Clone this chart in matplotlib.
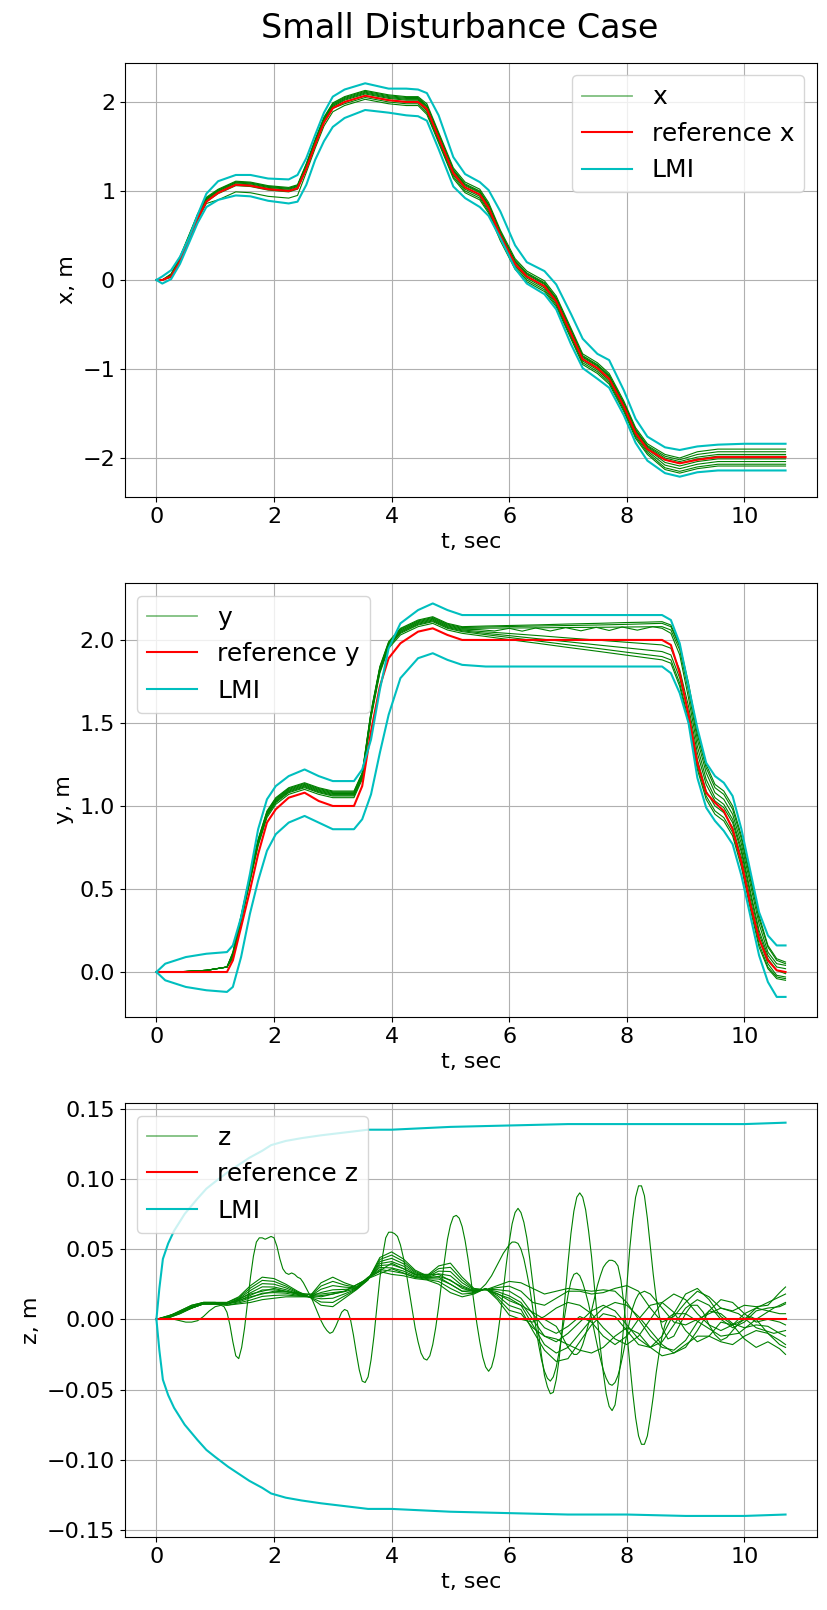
import numpy as np
import matplotlib
import matplotlib.pyplot as plt
from matplotlib.lines import Line2D

matplotlib.use('Agg')
plt.rcParams['font.family'] = ['DejaVu Sans']
plt.rcParams['font.size'] = 16

# ---------------- x channel ----------------
t_x = [0, 0.1, 0.25, 0.4, 0.55, 0.7, 0.85, 1.05, 1.35, 1.6, 1.9, 2.25, 2.4, 2.55, 2.7, 2.85,
       3.0, 3.2, 3.55, 3.95, 4.25, 4.45, 4.6, 4.8, 5.05, 5.25, 5.5, 5.65, 5.85, 6.1, 6.3, 6.6,
       6.8, 7.05, 7.25, 7.5, 7.7, 7.95, 8.15, 8.35, 8.65, 8.9, 9.2, 9.55, 10.0, 10.7]
ref_x = [0, 0.0, 0.04, 0.21, 0.45, 0.69, 0.88, 0.98, 1.07, 1.06, 1.02, 1.0, 1.03, 1.25, 1.52, 1.77,
         1.93, 2.0, 2.07, 2.02, 2.0, 2.0, 1.92, 1.6, 1.2, 1.04, 0.96, 0.81, 0.5, 0.18, 0.04, -0.07,
         -0.24, -0.6, -0.89, -0.99, -1.11, -1.42, -1.72, -1.9, -2.02, -2.06, -2.02, -1.99, -1.99, -1.99]
lmi_x_up = [0, 0.04, 0.11, 0.26, 0.47, 0.73, 0.97, 1.11, 1.18, 1.18, 1.14, 1.13, 1.18, 1.37, 1.63, 1.88,
            2.06, 2.14, 2.21, 2.15, 2.15, 2.14, 2.10, 1.85, 1.38, 1.19, 1.10, 1.01, 0.77, 0.39, 0.20, 0.10,
            -0.05, -0.38, -0.66, -0.83, -0.90, -1.24, -1.56, -1.76, -1.88, -1.91, -1.87, -1.85, -1.84, -1.84]
lmi_x_lo = [0, -0.04, 0.01, 0.18, 0.41, 0.64, 0.82, 0.90, 0.95, 0.94, 0.89, 0.86, 0.88, 1.07, 1.35, 1.56,
            1.72, 1.82, 1.91, 1.88, 1.85, 1.84, 1.79, 1.47, 1.05, 0.92, 0.82, 0.72, 0.47, 0.13, -0.04, -0.16,
            -0.33, -0.72, -0.99, -1.11, -1.21, -1.52, -1.83, -2.03, -2.17, -2.21, -2.16, -2.14, -2.14, -2.14]
x_runs = [
    [0, 0.0, 0.07, 0.26, 0.50, 0.74, 0.93, 1.02, 1.11, 1.10, 1.06, 1.04, 1.07, 1.31, 1.58, 1.83,
     1.99, 2.06, 2.13, 2.08, 2.06, 2.06, 1.98, 1.66, 1.26, 1.10, 1.02, 0.87, 0.56, 0.24, 0.10, -0.01,
     -0.18, -0.54, -0.83, -0.93, -1.05, -1.36, -1.66, -1.84, -1.96, -2.00, -1.93, -1.90, -1.90, -1.90],
    [0, 0.0, 0.06, 0.25, 0.49, 0.73, 0.92, 1.01, 1.10, 1.09, 1.05, 1.03, 1.06, 1.30, 1.57, 1.82,
     1.98, 2.05, 2.12, 2.07, 2.05, 2.05, 1.96, 1.64, 1.24, 1.08, 1.00, 0.85, 0.54, 0.22, 0.08, -0.03,
     -0.20, -0.56, -0.85, -0.95, -1.07, -1.38, -1.68, -1.86, -1.98, -2.02, -1.96, -1.93, -1.93, -1.93],
    [0, 0.0, 0.06, 0.24, 0.48, 0.72, 0.91, 1.01, 1.10, 1.09, 1.05, 1.03, 1.06, 1.29, 1.56, 1.81,
     1.97, 2.04, 2.11, 2.06, 2.04, 2.04, 1.95, 1.63, 1.23, 1.07, 0.99, 0.84, 0.53, 0.21, 0.07, -0.04,
     -0.21, -0.57, -0.86, -0.96, -1.08, -1.39, -1.69, -1.87, -2.00, -2.04, -1.99, -1.96, -1.96, -1.96],
    [0, 0.0, 0.05, 0.24, 0.48, 0.72, 0.91, 1.00, 1.09, 1.08, 1.04, 1.02, 1.05, 1.28, 1.55, 1.80,
     1.96, 2.03, 2.10, 2.05, 2.03, 2.03, 1.94, 1.62, 1.22, 1.06, 0.98, 0.83, 0.52, 0.20, 0.06, -0.05,
     -0.22, -0.58, -0.87, -0.97, -1.09, -1.40, -1.70, -1.88, -2.02, -2.06, -2.01, -1.98, -1.98, -1.98],
    [0, 0.0, 0.05, 0.23, 0.47, 0.71, 0.90, 0.99, 1.08, 1.07, 1.03, 1.01, 1.04, 1.27, 1.54, 1.79,
     1.95, 2.02, 2.09, 2.04, 2.02, 2.02, 1.92, 1.60, 1.20, 1.04, 0.96, 0.81, 0.50, 0.18, 0.04, -0.07,
     -0.24, -0.60, -0.89, -0.99, -1.11, -1.42, -1.72, -1.90, -2.05, -2.09, -2.04, -2.01, -2.01, -2.01],
    [0, 0.0, 0.04, 0.22, 0.46, 0.70, 0.89, 0.98, 1.07, 1.06, 1.02, 1.00, 1.03, 1.26, 1.53, 1.78,
     1.94, 2.00, 2.07, 2.02, 2.00, 2.00, 1.90, 1.58, 1.18, 1.02, 0.94, 0.79, 0.48, 0.16, 0.02, -0.09,
     -0.26, -0.62, -0.91, -1.01, -1.13, -1.44, -1.74, -1.92, -2.08, -2.12, -2.07, -2.04, -2.04, -2.04],
    [0, 0.0, 0.04, 0.21, 0.45, 0.69, 0.88, 0.97, 1.06, 1.05, 1.01, 0.99, 1.02, 1.25, 1.52, 1.77,
     1.93, 1.98, 2.05, 2.00, 1.98, 1.98, 1.88, 1.56, 1.16, 1.00, 0.92, 0.77, 0.46, 0.14, 0.00, -0.11,
     -0.28, -0.64, -0.93, -1.03, -1.15, -1.46, -1.76, -1.94, -2.11, -2.15, -2.10, -2.07, -2.07, -2.07],
    [0, 0.0, 0.03, 0.19, 0.43, 0.67, 0.86, 0.90, 0.99, 0.98, 0.94, 0.92, 0.95, 1.21, 1.48, 1.73,
     1.89, 1.96, 2.03, 1.98, 1.96, 1.96, 1.86, 1.54, 1.14, 0.98, 0.90, 0.75, 0.44, 0.12, -0.02, -0.13,
     -0.30, -0.66, -0.95, -1.05, -1.17, -1.48, -1.78, -1.96, -2.13, -2.17, -2.12, -2.09, -2.09, -2.09],
]

# ---------------- y channel ----------------
t_y = [0, 0.15, 0.5, 0.85, 1.2, 1.3, 1.44, 1.59, 1.73, 1.88, 2.03, 2.25, 2.52, 2.76, 3.0, 3.36,
       3.5, 3.65, 3.8, 3.95, 4.15, 4.45, 4.7, 4.95, 5.2, 5.6, 6.0, 6.5, 7.0, 7.5, 8.0, 8.3,
       8.6, 8.75, 8.9, 9.05, 9.2, 9.35, 9.5, 9.65, 9.8, 9.95, 10.1, 10.25, 10.4, 10.55, 10.7]
ref_y = [0, 0, 0, 0, 0, 0.07, 0.27, 0.49, 0.71, 0.9, 0.98, 1.05, 1.08, 1.03, 1.0, 1.0,
         1.12, 1.45, 1.72, 1.89, 1.98, 2.05, 2.07, 2.03, 2.0, 2.0, 2.0, 2.0, 2.0, 2.0, 2.0, 2.0,
         2.0, 1.97, 1.8, 1.55, 1.26, 1.08, 1.02, 0.97, 0.86, 0.66, 0.41, 0.2, 0.07, 0.01, 0.0]
lmi_y_up = [0, 0.05, 0.09, 0.11, 0.12, 0.16, 0.33, 0.59, 0.86, 1.04, 1.12, 1.18, 1.22, 1.18, 1.15, 1.15,
            1.22, 1.4, 1.7, 1.95, 2.1, 2.18, 2.22, 2.18, 2.15, 2.15, 2.15, 2.15, 2.15, 2.15, 2.15, 2.15,
            2.15, 2.12, 1.98, 1.72, 1.47, 1.26, 1.18, 1.14, 1.06, 0.86, 0.61, 0.36, 0.22, 0.16, 0.16]
lmi_y_lo = [0, -0.05, -0.09, -0.11, -0.12, -0.09, 0.09, 0.35, 0.55, 0.73, 0.83, 0.9, 0.94, 0.9, 0.86, 0.86,
            0.92, 1.07, 1.32, 1.55, 1.77, 1.89, 1.92, 1.88, 1.85, 1.84, 1.84, 1.84, 1.84, 1.84, 1.84, 1.84,
            1.84, 1.8, 1.68, 1.5, 1.17, 0.99, 0.91, 0.85, 0.77, 0.58, 0.34, 0.1, -0.06, -0.15, -0.15]
y_runs = [
    [0, 0, 0.003, 0.01, 0.03, 0.12, 0.34, 0.58, 0.80, 0.97, 1.05, 1.11, 1.14, 1.11, 1.09, 1.09,
     1.20, 1.57, 1.84, 1.99, 2.07, 2.12, 2.14, 2.10, 2.08, 2.084, 2.087, 2.091, 2.096, 2.10, 2.105, 2.107,
     2.11, 2.09, 1.97, 1.74, 1.45, 1.25, 1.13, 1.09, 1.00, 0.82, 0.58, 0.34, 0.16, 0.08, 0.06],
    [0, 0, 0.003, 0.01, 0.03, 0.115, 0.335, 0.575, 0.795, 0.965, 1.045, 1.105, 1.135, 1.105, 1.085, 1.085,
     1.195, 1.565, 1.835, 1.985, 2.065, 2.115, 2.135, 2.095, 2.075, 2.078, 2.081, 2.084, 2.087, 2.09, 2.094, 2.097,
     2.10, 2.08, 1.96, 1.72, 1.43, 1.23, 1.11, 1.07, 0.98, 0.80, 0.56, 0.32, 0.15, 0.07, 0.05],
    [0, 0, 0.003, 0.01, 0.03, 0.11, 0.33, 0.57, 0.79, 0.96, 1.04, 1.10, 1.13, 1.10, 1.08, 1.08,
     1.19, 1.56, 1.83, 1.98, 2.06, 2.11, 2.13, 2.09, 2.07, 2.071, 2.072, 2.073, 2.075, 2.076, 2.078, 2.079,
     2.08, 2.06, 1.94, 1.69, 1.40, 1.20, 1.08, 1.04, 0.95, 0.77, 0.53, 0.29, 0.12, 0.05, 0.04],
    [0, 0, 0.003, 0.01, 0.03, 0.10, 0.32, 0.56, 0.78, 0.95, 1.03, 1.09, 1.12, 1.09, 1.07, 1.07,
     1.18, 1.55, 1.82, 1.97, 2.05, 2.10, 2.12, 2.08, 2.06, 2.049, 2.039, 2.026, 2.012, 1.999, 1.986, 1.978,
     1.97, 1.95, 1.82, 1.60, 1.32, 1.13, 1.03, 0.99, 0.90, 0.72, 0.47, 0.23, 0.08, 0.01, -0.01],
    [0, 0, 0.003, 0.01, 0.03, 0.095, 0.315, 0.555, 0.775, 0.945, 1.025, 1.085, 1.115, 1.085, 1.065, 1.065,
     1.175, 1.545, 1.815, 1.965, 2.045, 2.095, 2.115, 2.075, 2.055, 2.04, 2.026, 2.007, 1.989, 1.97, 1.952, 1.941,
     1.93, 1.91, 1.77, 1.56, 1.28, 1.09, 1.00, 0.96, 0.87, 0.69, 0.44, 0.20, 0.05, -0.02, -0.03],
    [0, 0, 0.003, 0.01, 0.03, 0.09, 0.31, 0.55, 0.77, 0.94, 1.02, 1.08, 1.11, 1.08, 1.06, 1.06,
     1.17, 1.54, 1.81, 1.96, 2.04, 2.09, 2.11, 2.07, 2.05, 2.032, 2.015, 1.993, 1.971, 1.949, 1.926, 1.913,
     1.90, 1.88, 1.74, 1.52, 1.24, 1.06, 0.97, 0.93, 0.84, 0.65, 0.40, 0.17, 0.03, -0.03, -0.04],
    [0, 0, 0.003, 0.01, 0.03, 0.08, 0.30, 0.54, 0.76, 0.93, 1.01, 1.07, 1.10, 1.07, 1.05, 1.05,
     1.16, 1.53, 1.80, 1.95, 2.03, 2.08, 2.10, 2.06, 2.04, 2.021, 2.002, 1.979, 1.955, 1.932, 1.908, 1.894,
     1.88, 1.86, 1.72, 1.50, 1.22, 1.04, 0.95, 0.91, 0.82, 0.63, 0.38, 0.15, 0.02, -0.04, -0.05],
]
# the run with the small ripple on the plateau, (t, y) pairs
y_ripple = [
    (0, 0), (0.15, 0), (0.5, 0.003), (0.85, 0.01), (1.2, 0.03), (1.3, 0.105), (1.44, 0.325), (1.59, 0.565),
    (1.73, 0.785), (1.88, 0.955), (2.03, 1.035), (2.25, 1.095), (2.52, 1.125), (2.76, 1.095), (3.0, 1.075),
    (3.36, 1.075), (3.5, 1.185), (3.65, 1.555), (3.8, 1.825), (3.95, 1.975), (4.15, 2.055), (4.45, 2.105),
    (4.7, 2.125), (4.95, 2.085), (5.2, 2.065), (5.5, 2.062), (5.75, 2.054), (6.0, 2.07), (6.22, 2.053),
    (6.45, 2.072), (6.7, 2.054), (6.96, 2.074), (7.22, 2.055), (7.48, 2.076), (7.7, 2.057), (7.92, 2.078),
    (8.18, 2.059), (8.44, 2.08), (8.6, 2.07), (8.75, 2.04), (8.9, 1.91), (9.05, 1.65), (9.2, 1.36),
    (9.35, 1.16), (9.5, 1.05), (9.65, 1.01), (9.8, 0.92), (9.95, 0.74), (10.1, 0.49), (10.25, 0.25),
    (10.4, 0.10), (10.55, 0.03), (10.7, 0.02),
]

# ---------------- z channel ----------------
t_z_lmi = [0, 0.05, 0.11, 0.2, 0.3, 0.48, 0.7, 0.85, 1.0, 1.22, 1.4, 1.58, 1.8, 1.95, 2.2, 2.47,
           2.8, 3.2, 3.6, 4.0, 4.5, 5.0, 6.0, 7.0, 8.0, 9.0, 10.0, 10.7]
lmi_z_up = [0, 0.022, 0.043, 0.054, 0.063, 0.075, 0.086, 0.093, 0.098, 0.105, 0.11, 0.115, 0.12, 0.124,
            0.127, 0.129, 0.131, 0.133, 0.135, 0.135, 0.136, 0.137, 0.138, 0.139, 0.139, 0.139, 0.139, 0.14]
lmi_z_lo = [0, -0.022, -0.043, -0.054, -0.063, -0.075, -0.086, -0.093, -0.098, -0.105, -0.11, -0.115, -0.12,
            -0.124, -0.127, -0.129, -0.131, -0.133, -0.135, -0.135, -0.136, -0.137, -0.138, -0.139, -0.139,
            -0.14, -0.14, -0.139]
t_z_ref = [0, 10.7]
ref_z = [0, 0]

# strongly oscillating run, (t, z) pairs
osc_a = [
    (0, 0), (0.1, 0), (0.2, 0), (0.3, 0), (0.4, -0.001), (0.5, -0.002), (0.6, -0.002), (0.7, -0.001),
    (0.8, 0.002), (0.9, 0.006), (1.0, 0.009), (1.1, 0.010), (1.15, 0.009), (1.2, 0.005), (1.25, -0.004),
    (1.3, -0.016), (1.35, -0.026), (1.4, -0.028), (1.45, -0.020), (1.5, -0.006), (1.55, 0.012), (1.6, 0.030),
    (1.65, 0.045), (1.7, 0.055), (1.75, 0.058), (1.8, 0.058), (1.85, 0.057), (1.9, 0.058), (1.95, 0.059),
    (2.0, 0.058), (2.05, 0.052), (2.1, 0.043), (2.15, 0.036), (2.2, 0.033), (2.25, 0.032), (2.3, 0.033),
    (2.35, 0.032), (2.4, 0.030), (2.45, 0.029), (2.5, 0.026), (2.55, 0.022), (2.6, 0.018), (2.65, 0.014),
    (2.7, 0.009), (2.75, 0.004), (2.8, -0.001), (2.85, -0.005), (2.9, -0.008), (2.95, -0.010), (3.0, -0.009),
    (3.05, -0.005), (3.1, 0.0), (3.15, 0.005), (3.2, 0.007), (3.25, 0.006), (3.3, 0.0), (3.35, -0.011),
    (3.4, -0.024), (3.45, -0.036), (3.5, -0.044), (3.55, -0.045), (3.6, -0.041), (3.65, -0.029),
    (3.7, -0.012), (3.75, 0.009), (3.8, 0.029), (3.85, 0.046), (3.9, 0.058), (3.95, 0.062), (4.0, 0.062),
    (4.05, 0.061), (4.1, 0.059), (4.15, 0.053), (4.2, 0.044), (4.25, 0.033), (4.3, 0.020), (4.35, 0.007),
    (4.4, -0.006), (4.45, -0.016), (4.5, -0.024), (4.55, -0.028), (4.6, -0.029), (4.65, -0.026),
    (4.7, -0.018), (4.75, -0.006), (4.8, 0.009), (4.85, 0.026), (4.9, 0.042), (4.95, 0.057), (5.0, 0.067),
    (5.05, 0.073), (5.1, 0.074), (5.15, 0.072), (5.2, 0.066), (5.25, 0.056), (5.3, 0.043), (5.35, 0.028),
    (5.4, 0.012), (5.45, -0.003), (5.5, -0.016), (5.55, -0.027), (5.6, -0.034), (5.65, -0.037),
    (5.7, -0.034), (5.75, -0.026), (5.8, -0.013), (5.85, 0.003), (5.9, 0.021), (5.95, 0.039), (6.0, 0.055),
    (6.05, 0.068), (6.1, 0.076), (6.15, 0.079), (6.2, 0.076), (6.25, 0.069), (6.3, 0.058), (6.35, 0.043),
    (6.4, 0.026), (6.45, 0.008), (6.5, -0.010), (6.55, -0.026), (6.6, -0.040), (6.65, -0.048),
    (6.7, -0.053), (6.75, -0.052), (6.8, -0.043), (6.85, -0.028), (6.9, -0.007), (6.95, 0.016),
    (7.0, 0.040), (7.05, 0.061), (7.1, 0.077), (7.15, 0.087), (7.2, 0.090), (7.25, 0.087), (7.3, 0.078),
    (7.35, 0.063), (7.4, 0.045), (7.45, 0.023), (7.5, 0.001), (7.55, -0.020), (7.6, -0.038), (7.65, -0.053),
    (7.7, -0.062), (7.75, -0.065), (7.8, -0.061), (7.85, -0.047), (7.9, -0.028), (7.95, -0.003),
    (8.0, 0.024), (8.05, 0.050), (8.1, 0.071), (8.15, 0.087), (8.2, 0.095), (8.25, 0.095), (8.3, 0.088),
    (8.35, 0.072), (8.4, 0.052), (8.45, 0.032), (8.5, 0.015), (8.55, 0.003), (8.6, -0.006), (8.7, -0.014),
    (8.8, -0.012), (8.9, -0.004), (9.0, 0.004), (9.1, 0.01), (9.2, 0.01), (9.3, 0.005), (9.4, -0.004),
    (9.5, -0.011), (9.6, -0.015), (9.7, -0.013), (9.8, -0.008), (9.9, -0.003), (10.0, 0.0), (10.1, 0.002),
    (10.2, 0.0), (10.3, -0.005), (10.4, -0.01), (10.5, -0.014), (10.6, -0.018), (10.7, -0.02),
]

# second oscillating run
osc_b = [
    (0, 0), (0.4, 0.005), (0.8, 0.011), (1.2, 0.011), (1.6, 0.018), (2.0, 0.022), (2.4, 0.018), (2.8, 0.018),
    (3.2, 0.02), (3.6, 0.029), (4.0, 0.04), (4.4, 0.032), (4.8, 0.032), (5.2, 0.023), (5.4, 0.02),
    (5.5, 0.021), (5.6, 0.025), (5.7, 0.031), (5.8, 0.039), (5.85, 0.043), (5.9, 0.047), (5.95, 0.05),
    (6.0, 0.053), (6.05, 0.055), (6.1, 0.055), (6.15, 0.054), (6.2, 0.05), (6.25, 0.043), (6.3, 0.033),
    (6.35, 0.022), (6.4, 0.008), (6.45, -0.005), (6.5, -0.018), (6.55, -0.029), (6.6, -0.037),
    (6.65, -0.042), (6.7, -0.044), (6.75, -0.041), (6.8, -0.034), (6.85, -0.023), (6.9, -0.01),
    (6.95, 0.004), (7.0, 0.017), (7.05, 0.027), (7.1, 0.032), (7.15, 0.033), (7.2, 0.031), (7.25, 0.026),
    (7.3, 0.019), (7.35, 0.011), (7.4, 0.001), (7.45, -0.009), (7.5, -0.019), (7.55, -0.028), (7.6, -0.036),
    (7.65, -0.042), (7.7, -0.046), (7.75, -0.047), (7.8, -0.045), (7.85, -0.04), (7.9, -0.032),
    (7.95, -0.022), (8.0, -0.011), (8.05, -0.001), (8.1, 0.008), (8.15, 0.014), (8.2, 0.018), (8.3, 0.02),
    (8.4, 0.018), (8.6, 0.008), (8.8, -0.002), (9.0, -0.004), (9.3, 0.002), (9.6, 0.008), (9.9, 0.004),
    (10.2, -0.006), (10.5, -0.01), (10.7, -0.008),
]

# run swinging opposite to the main one near the end
osc_c = [
    (0, 0), (0.4, 0.005), (0.8, 0.011), (1.2, 0.011), (1.6, 0.016), (2.0, 0.02), (2.4, 0.019), (2.8, 0.016),
    (3.2, 0.02), (3.6, 0.029), (4.0, 0.036), (4.4, 0.03), (4.8, 0.03), (5.2, 0.02), (5.6, 0.021), (6.0, 0.015),
    (6.4, 0.005), (6.8, -0.005), (6.9, -0.012), (7.0, -0.02), (7.1, -0.025), (7.15, -0.025), (7.2, -0.023),
    (7.25, -0.018), (7.3, -0.011), (7.35, -0.003), (7.4, 0.006), (7.45, 0.015), (7.5, 0.024), (7.55, 0.031),
    (7.6, 0.037), (7.65, 0.04), (7.7, 0.042), (7.75, 0.042), (7.8, 0.041), (7.85, 0.038), (7.9, 0.028),
    (7.95, 0.011), (8.0, -0.009), (8.05, -0.031), (8.1, -0.052), (8.15, -0.07), (8.2, -0.083),
    (8.25, -0.089), (8.3, -0.089), (8.35, -0.083), (8.4, -0.07), (8.45, -0.055), (8.5, -0.038),
    (8.55, -0.024), (8.6, -0.012), (8.65, -0.004), (8.7, 0.001), (8.8, 0.004), (9.0, 0.004), (9.3, -0.004),
    (9.6, -0.012), (9.9, -0.01), (10.2, 0.0), (10.5, 0.008), (10.7, 0.012),
]

# the smoother bundle, sampled every 0.2 s plus the last point at 10.7 s
z_bundle = [
    [0, 0.002, 0.006, 0.010, 0.012, 0.012, 0.012, 0.016, 0.024, 0.030, 0.029, 0.025, 0.020, 0.016, 0.010,
     0.009, 0.015, 0.021, 0.028, 0.044, 0.048, 0.043, 0.035, 0.031, 0.038, 0.040, 0.030, 0.022, 0.021,
     0.024, 0.027, 0.026, 0.022, 0.018, 0.020, 0.022, 0.021, 0.020, 0.021, 0.020, 0.012, 0.0, -0.012,
     -0.020, -0.022, -0.015, -0.002, 0.006, 0.004, -0.003, -0.006, -0.004, -0.005, -0.010, -0.012],
    [0, 0.002, 0.006, 0.010, 0.012, 0.012, 0.012, 0.0153, 0.0223, 0.0277, 0.027, 0.0237, 0.0194, 0.016,
     0.0123, 0.012, 0.0166, 0.0213, 0.0283, 0.0426, 0.0457, 0.0413, 0.0341, 0.0306, 0.0361, 0.037, 0.028,
     0.0214, 0.0211, 0.0226, 0.0236, 0.020, 0.012, 0.010, 0.015, 0.020, 0.020, 0.018, 0.019, 0.022, 0.024,
     0.020, 0.008, -0.002, 0.002, 0.012, 0.020, 0.016, 0.008, 0.006, 0.010, 0.009, 0.010, 0.019, 0.023],
    [0, 0.002, 0.005, 0.009, 0.012, 0.012, 0.011, 0.0146, 0.0206, 0.0254, 0.025, 0.0224, 0.0189, 0.016,
     0.0146, 0.015, 0.0181, 0.0216, 0.0286, 0.0411, 0.0434, 0.0396, 0.0333, 0.0301, 0.0343, 0.034, 0.026,
     0.0209, 0.0213, 0.0211, 0.0201, 0.015, 0.004, -0.006, -0.010, -0.005, 0.002, -0.002, -0.012, -0.018,
     -0.012, 0.0, 0.010, 0.012, 0.005, -0.008, -0.016, -0.012, -0.002, -0.004, -0.014, -0.020, -0.016,
     -0.021, -0.025],
    [0, 0.002, 0.005, 0.009, 0.012, 0.012, 0.011, 0.0139, 0.0189, 0.0231, 0.023, 0.0211, 0.0183, 0.016,
     0.0169, 0.018, 0.0197, 0.0219, 0.0289, 0.0397, 0.0411, 0.0379, 0.0324, 0.0297, 0.0324, 0.031, 0.024,
     0.0203, 0.0214, 0.0197, 0.0167, 0.012, 0.0, -0.012, -0.016, -0.010, -0.002, 0.006, 0.010, 0.006,
     -0.004, -0.014, -0.020, -0.016, -0.004, 0.008, 0.014, 0.010, 0.0, -0.006, -0.002, 0.006, 0.008, 0.009,
     0.011],
    [0, 0.001, 0.005, 0.009, 0.011, 0.011, 0.011, 0.0131, 0.0171, 0.0209, 0.021, 0.0199, 0.0177, 0.016,
     0.0191, 0.021, 0.0213, 0.0221, 0.0291, 0.0383, 0.0389, 0.0361, 0.0316, 0.0293, 0.0306, 0.028, 0.022,
     0.0197, 0.0216, 0.0183, 0.0133, 0.010, -0.004, -0.018, -0.024, -0.020, -0.010, 0.0, 0.008, 0.012,
     0.010, 0.002, -0.008, -0.018, -0.024, -0.020, -0.008, 0.006, 0.014, 0.012, 0.004, -0.002, 0.0, -0.002,
     -0.004],
    [0, 0.001, 0.005, 0.009, 0.011, 0.011, 0.011, 0.0124, 0.0154, 0.0186, 0.019, 0.0186, 0.0171, 0.016,
     0.0214, 0.024, 0.0229, 0.0224, 0.0294, 0.0369, 0.0366, 0.0344, 0.0307, 0.0289, 0.0287, 0.025, 0.020,
     0.0191, 0.0217, 0.0169, 0.0099, 0.007, -0.008, -0.022, -0.030, -0.028, -0.016, -0.004, 0.004, 0.002,
     -0.008, -0.018, -0.020, -0.012, 0.004, 0.018, 0.022, 0.014, 0.002, -0.004, 0.0, 0.008, 0.012, 0.016,
     0.018],
    [0, 0.001, 0.004, 0.008, 0.011, 0.011, 0.010, 0.0117, 0.0137, 0.0163, 0.017, 0.0173, 0.0166, 0.016,
     0.0237, 0.027, 0.0244, 0.0227, 0.0297, 0.0354, 0.0343, 0.0327, 0.0299, 0.0284, 0.0269, 0.022, 0.018,
     0.0186, 0.0219, 0.0154, 0.0064, 0.004, -0.006, -0.012, -0.014, -0.018, -0.022, -0.024, -0.020, -0.012,
     -0.006, -0.010, -0.020, -0.026, -0.024, -0.018, -0.012, -0.012, -0.016, -0.018, -0.012, -0.008, -0.010,
     -0.015, -0.018],
    [0, 0.001, 0.004, 0.008, 0.011, 0.011, 0.010, 0.011, 0.012, 0.014, 0.015, 0.016, 0.016, 0.016, 0.026,
     0.030, 0.026, 0.023, 0.030, 0.034, 0.032, 0.031, 0.029, 0.028, 0.025, 0.019, 0.016, 0.018, 0.022,
     0.014, 0.003, 0.0, -0.002, 0.002, 0.008, 0.012, 0.010, 0.004, -0.006, -0.014, -0.018, -0.012, 0.0,
     0.012, 0.018, 0.014, 0.004, -0.004, -0.008, -0.004, 0.004, 0.008, 0.006, 0.004, 0.004],
]

T_END = 10.7
GREEN_LW = 0.8


def green_handle(label):
    """legend entry for the bundle of runs"""
    return Line2D([], [], color='g', alpha=0.5, lw=1.3, label=label)


def draw_panel(ax, runs, ref, up, lo, name, legend_loc):
    for t, v in runs:
        ax.plot(t, v, color='g', lw=GREEN_LW)
    ax.plot(ref[0], ref[1], color='r', lw=1.5)
    ax.plot(up[0], up[1], color='c', lw=1.5)
    ax.plot(lo[0], lo[1], color='c', lw=1.5)
    handles = [green_handle(name),
               Line2D([], [], color='r', lw=1.5, label='reference ' + name),
               Line2D([], [], color='c', lw=1.5, label='LMI')]
    ax.legend(handles=handles, loc=legend_loc, fontsize=18)
    ax.set_xlabel('t, sec')
    ax.set_ylabel(name + ', m')
    ax.grid(True)
    ax.set_xlim(-0.535, T_END + 0.535)


def unzip(pairs):
    arr = np.array(pairs)
    return arr[:, 0], arr[:, 1]


fig, axes = plt.subplots(3, 1, figsize=(8.27, 16.10), dpi=100)
fig.subplots_adjust(left=0.1511, right=0.9879, top=0.96087, bottom=0.04534, hspace=0.1982)

# x
draw_panel(axes[0], [(t_x, r) for r in x_runs], (t_x, ref_x), (t_x, lmi_x_up), (t_x, lmi_x_lo),
           'x', 'upper right')
axes[0].set_ylim(-2.438, 2.438)

# y
y_all = [(t_y, r) for r in y_runs] + [unzip(y_ripple)]
draw_panel(axes[1], y_all, (t_y, ref_y), (t_y, lmi_y_up), (t_y, lmi_y_lo),
           'y', 'upper left')
axes[1].set_ylim(-0.271, 2.343)

# z
t_coarse = np.append(np.arange(0, 10.61, 0.2), T_END)
z_runs = [(t_coarse, r) for r in z_bundle]
z_runs += [unzip(osc_a), unzip(osc_b), unzip(osc_c)]
draw_panel(axes[2], z_runs, (t_z_ref, ref_z), (t_z_lmi, lmi_z_up), (t_z_lmi, lmi_z_lo),
           'z', 'upper left')
axes[2].set_ylim(-0.155, 0.154)

fig.text(0.5562, 1 - 38 / 1610, 'Small Disturbance Case', fontsize=24, ha='center', va='baseline')

plt.savefig('out.png', dpi=100)
plt.close()
